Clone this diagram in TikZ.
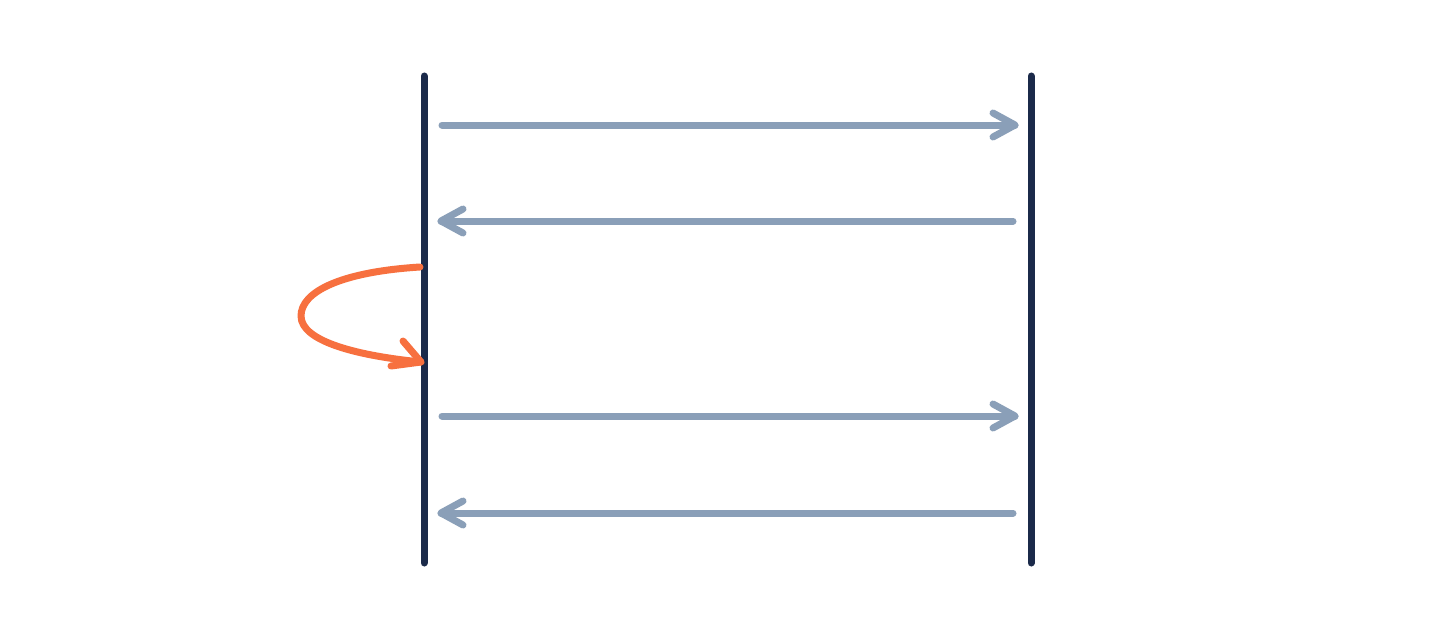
\documentclass[tikz,border=0pt]{standalone}
\usetikzlibrary{calc}
\definecolor{navy}{HTML}{1B2A4A}
\definecolor{msg}{HTML}{8A9FB8}
\definecolor{loopc}{HTML}{F7703F}
\tikzset{
  lifeline/.style={line width=7pt, navy, line cap=round},
  message/.style={line width=7pt, msg, line cap=round, line join=round},
  selfmsg/.style={line width=7pt, loopc, line cap=round, line join=round},
}
\begin{document}
\begin{tikzpicture}[x=1pt,y=-1pt]
\useasboundingbox (0,0) rectangle (1456,634);
\fill[white] (0,0) rectangle (1456,634);
% lifelines
\coordinate (Atop) at (424,76);
\coordinate (Abot) at (424,563);
\coordinate (Btop) at (1031,76);
\coordinate (Bbot) at (1031,563);
\draw[lifeline] (Atop) -- (Abot);
\draw[lifeline] (Btop) -- (Bbot);
% message 1 (right)
\coordinate (m1s) at (442,125);
\coordinate (m1e) at (1015,125);
\draw[message] (m1s) -- (m1e);
\draw[message] ($(m1e)+(-22,-12)$) -- (m1e) -- ($(m1e)+(-22,12)$);
% message 2 (left)
\coordinate (m2s) at (1013,221);
\coordinate (m2e) at (441,221);
\draw[message] (m2s) -- (m2e);
\draw[message] ($(m2e)+(22,-12)$) -- (m2e) -- ($(m2e)+(22,12)$);
% self message
\coordinate (s1) at (420,267);
\coordinate (sl) at (301,316);
\coordinate (s2) at (421,362);
\draw[selfmsg] (s1) .. controls (340,272) and (301,292) .. (sl)
  .. controls (301,342) and (360,356) .. (s2);
\draw[selfmsg] (403,341) -- (s2) -- (391,366);
% message 3 (right)
\coordinate (m3s) at (442,416);
\coordinate (m3e) at (1015,416);
\draw[message] (m3s) -- (m3e);
\draw[message] ($(m3e)+(-22,-12)$) -- (m3e) -- ($(m3e)+(-22,12)$);
% message 4 (left)
\coordinate (m4s) at (1013,513);
\coordinate (m4e) at (441,513);
\draw[message] (m4s) -- (m4e);
\draw[message] ($(m4e)+(22,-12)$) -- (m4e) -- ($(m4e)+(22,12)$);
\end{tikzpicture}
\end{document}
